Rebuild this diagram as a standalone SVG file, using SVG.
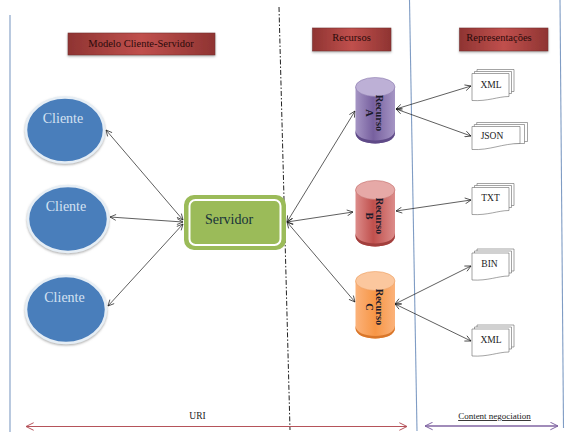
<svg xmlns="http://www.w3.org/2000/svg" width="573" height="436" viewBox="0 0 573 436">
<style>
.t{font-family:"Liberation Serif","Times New Roman",serif;text-anchor:middle;fill:#1a1a1a}
.h{font-size:10.5px;fill:#2a0a0a}
.d{font-size:9.5px;fill:#222}
.c{font-size:14px;fill:#d5e2f2}
.r{font-size:10.5px;font-weight:bold;fill:#1a1a2a}
.v{fill:none;stroke:#7f9cc4;stroke-width:1.1}
.a{fill:none;stroke:#1a1a1a;stroke-width:.7;marker-start:url(#m);marker-end:url(#m)}
.doc{fill:#fff;stroke:#666;stroke-width:.6}
.box{stroke:#7a2f2e;stroke-width:.6}
.el{fill:#4a7ebb;stroke:#e6eef5;stroke-width:2.5;filter:url(#s)}
</style>
<defs>
<marker id="m" viewBox="0 0 10 10" refX="9.5" refY="5" markerWidth="7" markerHeight="7" markerUnits="userSpaceOnUse" orient="auto-start-reverse"><path d="M1 .8L9.5 5L1 9.2" fill="none" stroke="#1a1a1a" stroke-width="1"/></marker>
<marker id="mr" viewBox="0 0 10 10" refX="9.5" refY="5" markerWidth="9" markerHeight="9" markerUnits="userSpaceOnUse" orient="auto-start-reverse"><path d="M1 .8L9.5 5L1 9.2" fill="none" stroke="#b5535a" stroke-width="1.1"/></marker>
<marker id="mp" viewBox="0 0 10 10" refX="9.5" refY="5" markerWidth="9" markerHeight="9" markerUnits="userSpaceOnUse" orient="auto-start-reverse"><path d="M1 .8L9.5 5L1 9.2" fill="none" stroke="#8064a2" stroke-width="1.1"/></marker>
<filter id="s" x="-10%" y="-10%" width="120%" height="125%"><feDropShadow dx="0" dy="1.2" stdDeviation="1" flood-color="#777" flood-opacity=".6"/></filter>
<linearGradient id="red" x1="0" x2="1" y1="0" y2="0"><stop offset="0" stop-color="#8f3432"/><stop offset=".5" stop-color="#c0504d"/><stop offset="1" stop-color="#8f3432"/></linearGradient>
<linearGradient id="pa" x1="0" x2="1" y1="0" y2="0"><stop offset="0" stop-color="#a595c4"/><stop offset=".45" stop-color="#77609f"/><stop offset="1" stop-color="#a595c4"/></linearGradient>
<linearGradient id="pb" x1="0" x2="1" y1="0" y2="0"><stop offset="0" stop-color="#dc8c8a"/><stop offset=".45" stop-color="#c0504d"/><stop offset="1" stop-color="#dc8c8a"/></linearGradient>
<linearGradient id="pc" x1="0" x2="1" y1="0" y2="0"><stop offset="0" stop-color="#fbb27a"/><stop offset=".5" stop-color="#f79646"/><stop offset="1" stop-color="#fbb27a"/></linearGradient>
<g id="doc3"><path class="doc" d="M5 0H42V22H5Z"/><path class="doc" d="M2.500 2H39.500V24H2.500Z"/><path class="doc" d="M0 4H37V27C26 27 16 32 0 31Z"/></g>
<g id="doc4"><path class="doc" d="M4.700 0H55.500V19H4.700Z"/><path class="doc" d="M2.300 2H52.500V21H2.300Z"/><path class="doc" d="M0 4H48V21C30 21 18 28 0 27Z"/></g>
</defs>
<rect width="573" height="436" fill="#fff"/>
<g id="dividers">
<path class="v" d="M10 15V432"/>
<path class="v" d="M409.500 0L417 431"/>
<path class="v" d="M560 0L563.500 428"/>
<path d="M279 7L290 430" fill="none" stroke="#222" stroke-width="1" stroke-dasharray="5 2 1.500 2"/>
</g>
<g id="connectors">
<path class="a" d="M106 130L183 220"/>
<path class="a" d="M110 217L183 222"/>
<path class="a" d="M108 306L183 224"/>
<path class="a" d="M287 222L355 111"/>
<path class="a" d="M287 222L353 212"/>
<path class="a" d="M287 222L355 302"/>
<path class="a" d="M396 109L471 86"/>
<path class="a" d="M396 109L471 136"/>
<path class="a" d="M396 211L471 200"/>
<path class="a" d="M395 304L471 266"/>
<path class="a" d="M395 304L471 341"/>
<path d="M26 426.500H407" fill="none" stroke="#b5535a" stroke-width="1.100" marker-start="url(#mr)" marker-end="url(#mr)"/>
<path d="M425 426H558" fill="none" stroke="#8064a2" stroke-width="1.500" marker-start="url(#mp)" marker-end="url(#mp)"/>
</g>
<g id="h1"><rect class="box" x="68" y="33" width="147" height="22" fill="url(#red)" filter="url(#s)"/><text class="t h" x="141" y="46.500">Modelo Cliente-Servidor</text></g>
<g id="h2"><rect class="box" x="312.500" y="28" width="78.500" height="23" fill="url(#red)" filter="url(#s)"/><text class="t h" x="351.500" y="41">Recursos</text></g>
<g id="h3"><rect class="box" x="459.500" y="28" width="88.500" height="23" fill="url(#red)" filter="url(#s)"/><text class="t h" x="499" y="41">Representações</text></g>
<g id="c1"><ellipse class="el" cx="65" cy="130" rx="39" ry="32.500"/><text class="t c" x="63" y="123">Cliente</text></g>
<g id="c2"><ellipse class="el" cx="68" cy="219" rx="40" ry="33"/><text class="t c" x="66" y="211">Cliente</text></g>
<g id="c3"><ellipse class="el" cx="66" cy="309.500" rx="40" ry="33.500"/><text class="t c" x="64.500" y="302">Cliente</text></g>
<g id="srv"><rect x="186" y="197" width="98" height="51" rx="8" fill="#9bbb59" stroke="#9bbb59" stroke-width="4"/><rect x="189.500" y="200" width="91" height="45" rx="6" fill="#9bbb59" stroke="#fff" stroke-width="2"/><text class="t" x="229" y="224" font-size="14" style="fill:#17323a">Servidor</text></g>
<g id="ra"><path d="M355.500 87V133C355.500 147 395 147 395 133V87Z" fill="url(#pa)"/><path d="M355.500 133C355.500 147 395 147 395 133V130C395 144 355.500 144 355.500 130Z" fill="#5f4a87"/><ellipse cx="375.250" cy="87" rx="19.750" ry="9.500" fill="#bdb0d6" stroke="#8a78ad" stroke-width=".6"/><text class="t r" transform="translate(375 113) rotate(90)"><tspan x="0" dy="-1">Recurso</tspan><tspan x="0" dy="10">A</tspan></text></g>
<g id="rb"><path d="M355.500 190V236C355.500 250 395 250 395 236V190Z" fill="url(#pb)"/><path d="M355.500 236C355.500 250 395 250 395 236V233C395 247 355.500 247 355.500 233Z" fill="#a23f3d"/><ellipse cx="375.250" cy="190" rx="19.750" ry="9.500" fill="#e6a9a7" stroke="#c26e6c" stroke-width=".6"/><text class="t r" transform="translate(375 216) rotate(90)"><tspan x="0" dy="-1">Recurso</tspan><tspan x="0" dy="10">B</tspan></text></g>
<g id="rc"><path d="M355.500 281V328C355.500 342 395 342 395 328V281Z" fill="url(#pc)"/><path d="M355.500 328C355.500 342 395 342 395 328V325.500C395 339.500 355.500 339.500 355.500 325.500Z" fill="#d9772b"/><ellipse cx="375.250" cy="281" rx="19.750" ry="9.500" fill="#fbc79e" stroke="#ec9d5e" stroke-width=".6"/><text class="t r" transform="translate(375 307) rotate(90)"><tspan x="0" dy="-1">Recurso</tspan><tspan x="0" dy="10">C</tspan></text></g>
<g id="d1"><use href="#doc3" x="472" y="69.500"/><text class="t d" x="491" y="87.500">XML</text></g>
<g id="d2"><use href="#doc4" x="472" y="122.500"/><text class="t d" x="492" y="139">JSON</text></g>
<g id="d3"><use href="#doc3" x="472" y="183.500"/><text class="t d" x="490.500" y="201">TXT</text></g>
<g id="d4"><use href="#doc3" x="472" y="249"/><text class="t d" x="489.500" y="266.500">BIN</text></g>
<g id="d5"><use href="#doc3" x="472" y="325"/><text class="t d" x="491" y="343">XML</text></g>
<g id="labels"><text class="t d" x="197.500" y="419">URI</text><text class="t d" x="494.500" y="419" font-size="9" style="font-size:9px;text-decoration:underline;text-decoration-color:#c05050">Content negociation</text></g>
</svg>
